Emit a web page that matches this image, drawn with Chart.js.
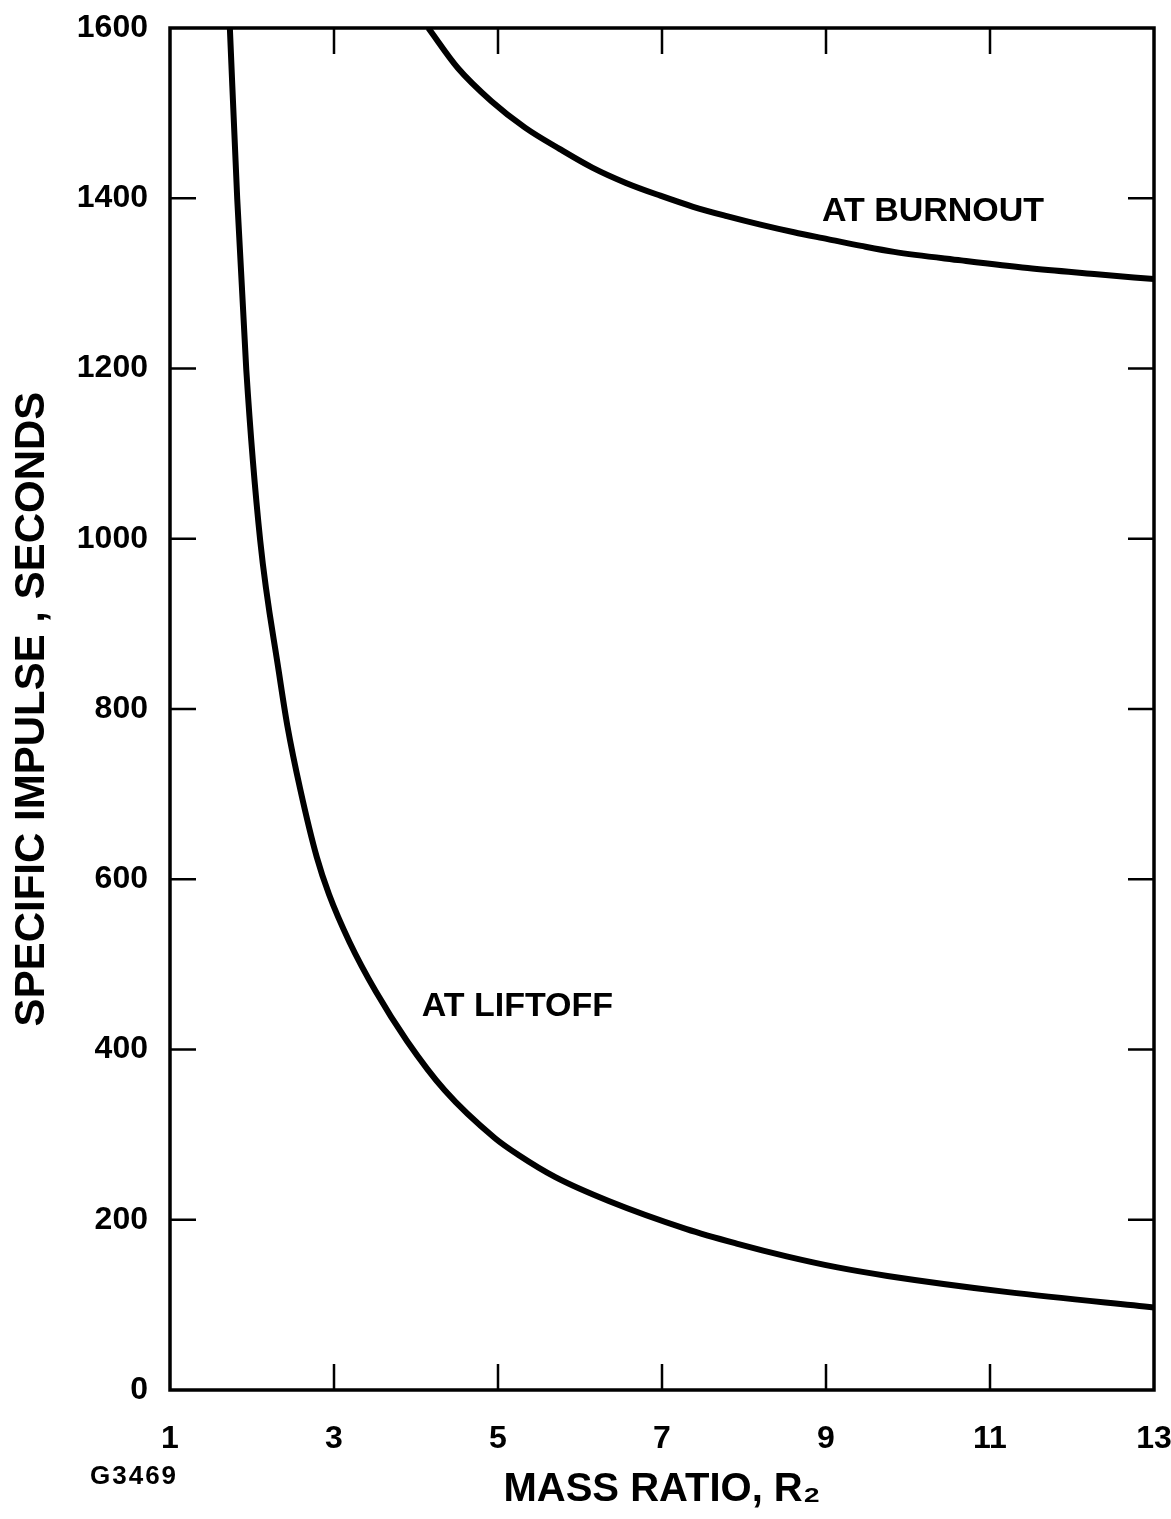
<!DOCTYPE html>
<html>
<head>
<meta charset="utf-8">
<script src="https://cdn.jsdelivr.net/npm/chart.js@4.4.0/dist/chart.umd.min.js"></script>
<style>
  html, body { margin: 0; padding: 0; background: #fff; }
  #wrap { width: 1171px; height: 1519px; }
</style>
</head>
<body>
<div id="wrap"><canvas id="chart" width="1171" height="1519"></canvas></div>
<script>
// Mass ratio R2 and specific impulse (seconds)
const liftoffRatio   = [1.73, 1.82, 1.93, 2.10, 2.33, 2.43, 2.59, 2.79, 2.94, 3.19, 3.51, 3.89, 4.35, 4.96, 5.25, 5.70, 6.35, 7.30, 7.91, 8.52, 9.14, 9.75, 11.22, 13.0];
const liftoffImpulse = [1600, 1399, 1199, 998, 842, 781, 705, 626, 582, 526, 468, 410, 352, 296, 276, 250, 222, 189, 172, 157, 144, 134, 115, 97];

const burnoutRatio   = [4.15, 4.51, 4.92, 5.33, 5.75, 6.15, 6.56, 6.98, 7.38, 7.79, 8.20, 8.61, 9.02, 9.43, 9.83, 10.65, 11.46, 12.27, 13.0];
const burnoutImpulse = [1600, 1553, 1514, 1483, 1458, 1436, 1418, 1403, 1390, 1379, 1369, 1360, 1352, 1344, 1337, 1327, 1318, 1311, 1305];

const xTicks = [1, 3, 5, 7, 9, 11, 13];
const yTicks = [0, 200, 400, 600, 800, 1000, 1200, 1400, 1600];

const xTitle = 'MASS RATIO, R\u2082';
const yTitle = 'SPECIFIC IMPULSE , SECONDS';
const curveLabels = [
  { text: 'AT BURNOUT', x: 8.95, y: 1384 },
  { text: 'AT LIFTOFF', x: 4.07, y: 450 }
];
const figureCode = 'G3469';

const FONT = "'Liberation Sans', Arial, sans-serif";
const TICK = 26;

// frame, inward tick marks and the in-plot lettering
const frameAndTicks = {
  id: 'frameAndTicks',
  afterDatasetsDraw(chart) {
    const { ctx, chartArea: a, scales: { x, y } } = chart;
    ctx.save();
    ctx.strokeStyle = '#000';
    ctx.lineWidth = 2.5;
    ctx.beginPath();
    xTicks.slice(1, -1).forEach(v => {
      const px = x.getPixelForValue(v);
      ctx.moveTo(px, a.bottom); ctx.lineTo(px, a.bottom - TICK);
      ctx.moveTo(px, a.top); ctx.lineTo(px, a.top + TICK);
    });
    yTicks.slice(1, -1).forEach(v => {
      const py = y.getPixelForValue(v);
      ctx.moveTo(a.left, py); ctx.lineTo(a.left + TICK, py);
      ctx.moveTo(a.right, py); ctx.lineTo(a.right - TICK, py);
    });
    ctx.stroke();
    ctx.lineWidth = 3.5;
    ctx.strokeRect(a.left, a.top, a.width, a.height);

    ctx.fillStyle = '#000';
    ctx.textBaseline = 'middle';
    ctx.textAlign = 'left';
    ctx.font = 'bold 34px ' + FONT;
    curveLabels.forEach(l => {
      ctx.fillText(l.text, x.getPixelForValue(l.x), y.getPixelForValue(l.y));
    });
    ctx.font = 'bold 26px ' + FONT;
    ctx.letterSpacing = '2px';
    ctx.fillText(figureCode, 90, 1477);
    ctx.restore();
  }
};

// keep the plot box where the figure has it: no extra room for edge labels
const noEdgePadding = scale => {
  scale.paddingTop = 0;
  scale.paddingBottom = 0;
  scale.paddingLeft = 0;
  scale.paddingRight = 0;
};

new Chart(document.getElementById('chart'), {
  type: 'scatter',
  data: {
    datasets: [
      {
        label: 'At liftoff',
        data: liftoffRatio.map((r, i) => ({ x: r, y: liftoffImpulse[i] })),
        showLine: true,
        borderColor: '#000',
        borderWidth: 6,
        pointRadius: 0,
        cubicInterpolationMode: 'monotone'
      },
      {
        label: 'At burnout',
        data: burnoutRatio.map((r, i) => ({ x: r, y: burnoutImpulse[i] })),
        showLine: true,
        borderColor: '#000',
        borderWidth: 6,
        pointRadius: 0,
        cubicInterpolationMode: 'monotone'
      }
    ]
  },
  options: {
    responsive: false,
    animation: false,
    layout: { padding: { top: 28, right: 17, left: 0, bottom: 0 } },
    plugins: { legend: { display: false }, tooltip: { enabled: false } },
    scales: {
      x: {
        type: 'linear',
        min: 1,
        max: 13,
        afterBuildTicks: axis => { axis.ticks = xTicks.map(v => ({ value: v })); },
        afterFit: scale => { scale.height = 129; noEdgePadding(scale); },
        grid: { display: false, drawTicks: false },
        border: { display: false },
        ticks: {
          padding: 30,
          color: '#000',
          maxRotation: 0,
          font: { family: FONT, size: 32, weight: 'bold' }
        },
        title: {
          display: true,
          text: xTitle,
          color: '#000',
          padding: { top: 0, bottom: 5 },
          font: { family: FONT, size: 40, weight: 'bold' }
        }
      },
      y: {
        type: 'linear',
        min: 0,
        max: 1600,
        afterBuildTicks: axis => { axis.ticks = yTicks.map(v => ({ value: v })); },
        afterFit: scale => { scale.width = 170; noEdgePadding(scale); },
        grid: { display: false, drawTicks: false },
        border: { display: false },
        ticks: {
          padding: 22,
          color: '#000',
          callback: v => String(v),
          font: { family: FONT, size: 32, weight: 'bold' }
        },
        title: {
          display: true,
          text: yTitle,
          color: '#000',
          padding: { top: 7, bottom: 0 },
          font: { family: FONT, size: 42, weight: 'bold' }
        }
      }
    }
  },
  plugins: [frameAndTicks]
});
</script>
</body>
</html>
